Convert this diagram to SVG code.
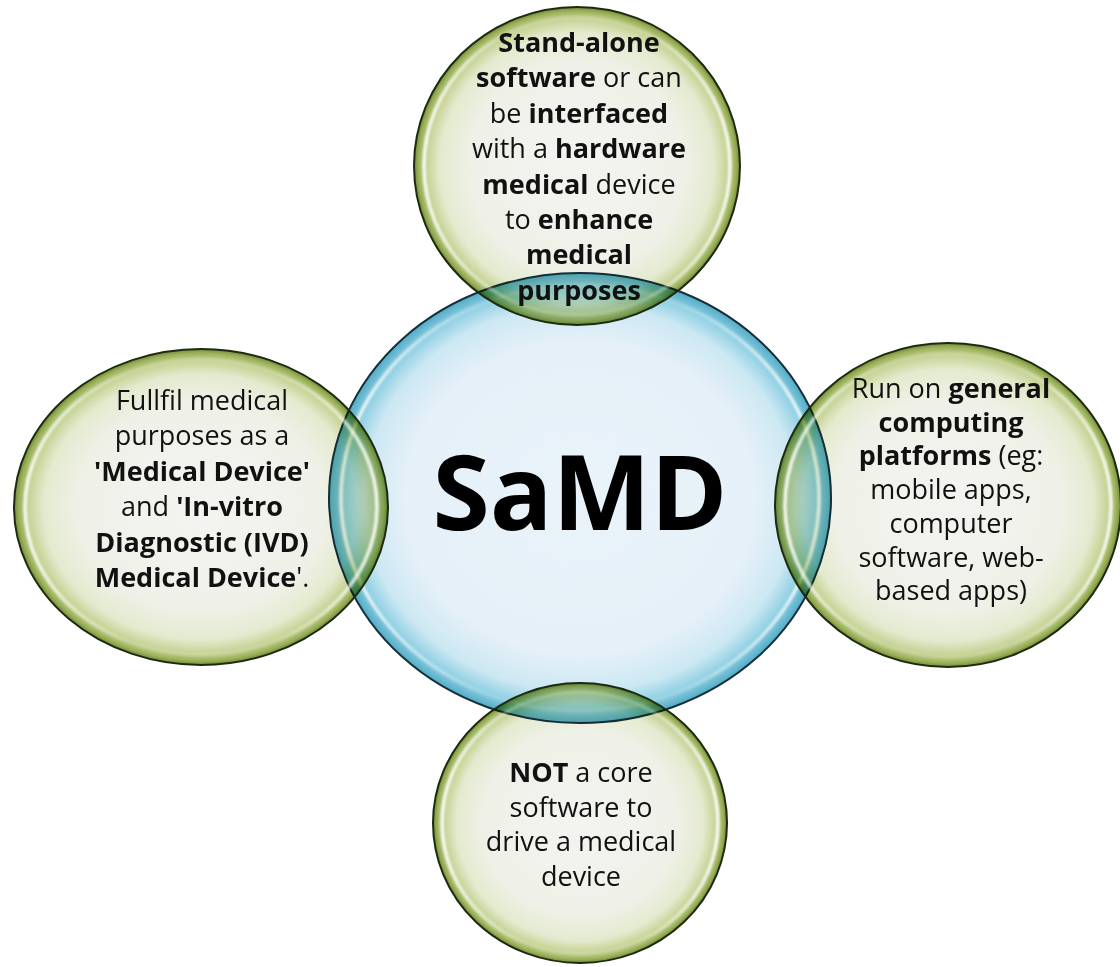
<svg xmlns="http://www.w3.org/2000/svg" width="1120" height="967" viewBox="0 0 1120 967">
<style>
.t{font-family:"Open Sans","Noto Sans","Liberation Sans",sans-serif;font-size:27px;fill:#111;text-anchor:middle}
.b{font-weight:700}
.gfill{fill:url(#gGreen);mix-blend-mode:multiply}
.bfill{fill:url(#gBlue)}
.gline{fill:none;stroke:#1e2a10;stroke-width:2}
.bline{fill:none;stroke:#15303a;stroke-width:2}
.hl{fill:none;stroke:url(#gHl);stroke-width:3.5;filter:url(#soft)}
.big{font-family:"Open Sans","Noto Sans","Liberation Sans",sans-serif;font-size:104px;font-weight:700;fill:#000;text-anchor:middle}
</style>
<defs>
<radialGradient id="gGreen" cx="50%" cy="50%" r="50%">
<stop offset="0" stop-color="#f3f4f0"/>
<stop offset="0.65" stop-color="#eff1e8"/>
<stop offset="0.84" stop-color="#e4eacf"/>
<stop offset="0.93" stop-color="#c3d190"/>
<stop offset="0.975" stop-color="#9ab058"/>
<stop offset="1" stop-color="#718938"/>
</radialGradient>
<radialGradient id="gBlue" cx="50%" cy="50%" r="50%">
<stop offset="0" stop-color="#eaf3fa"/>
<stop offset="0.7" stop-color="#e5f0f8"/>
<stop offset="0.86" stop-color="#cce8f3"/>
<stop offset="0.94" stop-color="#90d0e3"/>
<stop offset="1" stop-color="#52abc6"/>
</radialGradient>
<linearGradient id="gHl" x1="0" y1="0" x2="1" y2="0">
<stop offset="0" stop-color="#ffffff" stop-opacity="0.9"/>
<stop offset="0.3" stop-color="#ffffff" stop-opacity="0.15"/>
<stop offset="0.7" stop-color="#ffffff" stop-opacity="0.15"/>
<stop offset="1" stop-color="#ffffff" stop-opacity="0.9"/>
</linearGradient>
<filter id="soft" x="-10%" y="-10%" width="120%" height="120%">
<feGaussianBlur stdDeviation="1.2"/>
</filter>
</defs>
<rect width="1120" height="967" fill="#ffffff"/>
<g id="connectors"/>
<g id="samd">
<ellipse class="bfill" cx="580" cy="498" rx="251" ry="225"/>
<ellipse class="hl" cx="580" cy="498" rx="239" ry="213"/>
<ellipse class="bline" cx="580" cy="498" rx="251" ry="225"/>
<text class="big" x="580" y="530">SaMD</text>
</g>
<g id="top">
<ellipse class="gfill" cx="577" cy="166" rx="163" ry="159"/>
<ellipse class="hl" cx="577" cy="166" rx="153" ry="149"/>
<ellipse class="gline" cx="577" cy="166" rx="163" ry="159"/>
<text class="t" x="579" y="52"><tspan class="b">Stand-alone</tspan></text>
<text class="t" x="579" y="87.4"><tspan class="b">software</tspan> or can</text>
<text class="t" x="579" y="122.8">be <tspan class="b">interfaced</tspan></text>
<text class="t" x="579" y="158.2">with a <tspan class="b">hardware</tspan></text>
<text class="t" x="579" y="193.6"><tspan class="b">medical</tspan> device</text>
<text class="t" x="579" y="229">to <tspan class="b">enhance</tspan></text>
<text class="t" x="579" y="264.4"><tspan class="b">medical</tspan></text>
<text class="t" x="579" y="299.8"><tspan class="b">purposes</tspan></text>
</g>
<g id="left">
<ellipse class="gfill" cx="201" cy="507" rx="187" ry="158"/>
<ellipse class="hl" cx="201" cy="507" rx="176" ry="148"/>
<ellipse class="gline" cx="201" cy="507" rx="187" ry="158"/>
<text class="t" x="202" y="410">Fullfil medical</text>
<text class="t" x="202" y="445.4">purposes as a</text>
<text class="t" x="202" y="480.8"><tspan class="b">'Medical Device'</tspan></text>
<text class="t" x="202" y="516.2">and <tspan class="b">'In-vitro</tspan></text>
<text class="t" x="202" y="551.6"><tspan class="b">Diagnostic (IVD)</tspan></text>
<text class="t" x="202" y="587"><tspan class="b">Medical Device</tspan>'.</text>
</g>
<g id="right">
<ellipse class="gfill" cx="948" cy="505" rx="173" ry="162"/>
<ellipse class="hl" cx="948" cy="505" rx="163" ry="152"/>
<ellipse class="gline" cx="948" cy="505" rx="173" ry="162"/>
<text class="t" x="951" y="398">Run on <tspan class="b">general</tspan></text>
<text class="t" x="951" y="431.7"><tspan class="b">computing</tspan></text>
<text class="t" x="951" y="465.4"><tspan class="b">platforms</tspan> (eg:</text>
<text class="t" x="951" y="499.1">mobile apps,</text>
<text class="t" x="951" y="532.8">computer</text>
<text class="t" x="951" y="566.5">software, web-</text>
<text class="t" x="951" y="600.2">based apps)</text>
</g>
<g id="bottom">
<ellipse class="gfill" cx="580" cy="823" rx="147" ry="140"/>
<ellipse class="hl" cx="580" cy="823" rx="138" ry="131"/>
<ellipse class="gline" cx="580" cy="823" rx="147" ry="140"/>
<text class="t" x="581" y="782"><tspan class="b">NOT</tspan> a core</text>
<text class="t" x="581" y="816.5">software to</text>
<text class="t" x="581" y="851">drive a medical</text>
<text class="t" x="581" y="885.5">device</text>
</g>
</svg>
